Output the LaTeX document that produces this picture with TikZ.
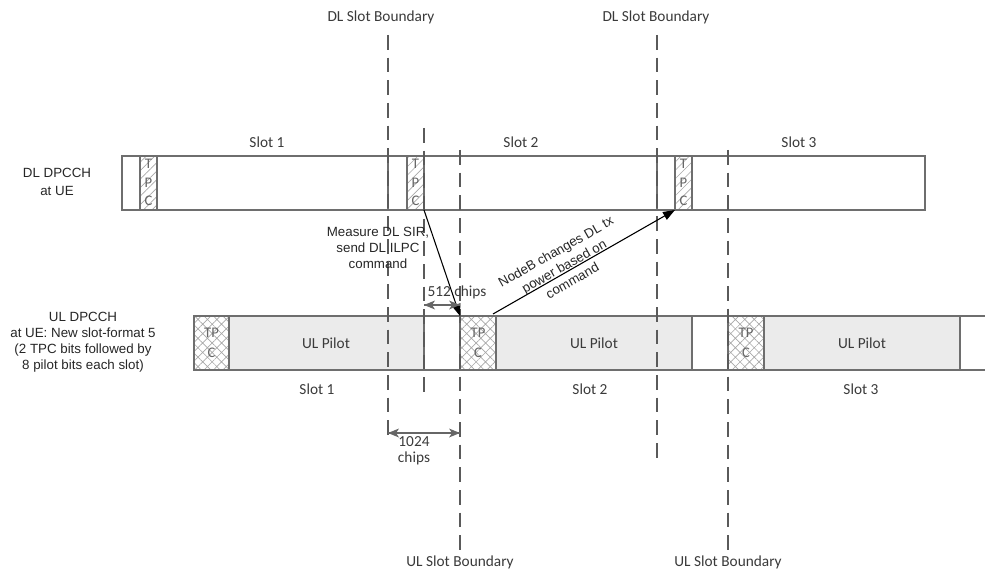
\documentclass[tikz,border=0pt]{standalone}
\usepackage{fontspec}
\setmainfont{Liberation Sans}
\newfontfamily\calfont{Carlito}
\usetikzlibrary{patterns.meta,arrows.meta}
\definecolor{bandc}{HTML}{6E6E6E}
\definecolor{dashc}{HTML}{5A5A5A}
\definecolor{txtc}{HTML}{3A3A3A}
\definecolor{hatchc}{HTML}{A8A8A8}
\definecolor{pilotc}{HTML}{EBEBEB}
\definecolor{chipc}{HTML}{666666}
\begin{document}
\begin{tikzpicture}[x=0.75pt,y=-0.75pt,
  band/.style={draw=bandc, line width=1.1pt},
  dltpc/.style={draw=bandc, line width=1.1pt, pattern={Lines[angle=45,distance=4.5pt,line width=0.5pt]}, pattern color=hatchc},
  ultpc/.style={draw=bandc, line width=1.1pt, pattern={Hatch[angle=45,distance=5pt,line width=0.5pt]}, pattern color=hatchc},
  pilot/.style={draw=bandc, line width=1.1pt, fill=pilotc},
  bnd/.style={draw=dashc, line width=1.4pt, dash pattern=on 11pt off 6pt},
  ctxt/.style={font=\calfont\fontsize{11.5}{12}\selectfont, text=txtc, inner sep=0pt},
  atxt/.style={font=\fontsize{10}{12}\selectfont, text=black!85, inner sep=0pt, align=center},
  tpcl/.style={font=\calfont\fontsize{11}{12}\selectfont, text=black!60, inner sep=0pt},
  meas/.style={draw=black, line width=0.8pt, -{Triangle[length=9pt,width=6.5pt]}},
  chipline/.style={draw=chipc, line width=1.2pt},
  chiphead/.style={fill=chipc}
]
\useasboundingbox (0,0) rectangle (985,574);

% ---------- DL band ----------
\draw[band] (122,156) rectangle (925,210);
\draw[dltpc] (140,156) rectangle (157,210);
\draw[band] (388,156) -- (388,210);
\draw[dltpc] (407,156) rectangle (424,210);
\draw[band] (657,156) -- (657,210);
\draw[dltpc] (675,156) rectangle (692,210);
\foreach \x in {148.5,415.5,683.5}{
  \node[tpcl] at (\x,164) {T};
  \node[tpcl] at (\x,183) {P};
  \node[tpcl] at (\x,201) {C};
}

% ---------- UL band ----------
\draw[band] (194,316) -- (985,316);
\draw[band] (194,370) -- (985,370);
\draw[band] (194,316) -- (194,370);
\draw[ultpc] (194,316) rectangle (229,370);
\draw[pilot] (229,316) rectangle (424,370);
\draw[ultpc] (460,316) rectangle (496,370);
\draw[pilot] (496,316) rectangle (692,370);
\draw[ultpc] (728,316) rectangle (764,370);
\draw[pilot] (764,316) rectangle (960,370);
\foreach \x in {211.5,478,746}{
  \node[tpcl] at (\x,333) {TP};
  \node[tpcl] at (\x,353) {C};
}
\node[ctxt] (pil1) at (326,343) {UL Pilot};
\node[ctxt] (pil2) at (594,343) {UL Pilot};
\node[ctxt] (pil3) at (862,343) {UL Pilot};

% ---------- dashed boundaries ----------
\coordinate (dlb1t) at (388,35);  \coordinate (dlb1b) at (388,437);
\coordinate (dlb2t) at (657,35);  \coordinate (dlb2b) at (657,465);
\coordinate (midt) at (424,128);  \coordinate (midb) at (424,400);
\coordinate (ulb1t) at (460,150); \coordinate (ulb1b) at (460,555);
\coordinate (ulb2t) at (728,150); \coordinate (ulb2b) at (728,555);
\draw[bnd] (dlb1t) -- (dlb1b);
\draw[bnd] (dlb2t) -- (dlb2b);
\draw[bnd] (midt) -- (midb);
\draw[bnd] (ulb1t) -- (ulb1b);
\draw[bnd] (ulb2t) -- (ulb2b);

\node[ctxt] (dlbl1) at (381,17) {DL Slot Boundary};
\node[ctxt] (dlbl2) at (656,17) {DL Slot Boundary};
\node[ctxt] (ulbl1) at (460,562) {UL Slot Boundary};
\node[ctxt] (ulbl2) at (728,562) {UL Slot Boundary};

% ---------- slot labels ----------
\node[ctxt] (ds1) at (267,142) {Slot 1};
\node[ctxt] (ds2) at (521,142) {Slot 2};
\node[ctxt] (ds3) at (799,142) {Slot 3};
\node[ctxt] (us1) at (317,389) {Slot 1};
\node[ctxt] (us2) at (590,389) {Slot 2};
\node[ctxt] (us3) at (861,389) {Slot 3};

% ---------- left labels ----------
\node[atxt, font=\fontsize{10}{13.5}\selectfont] (dllab) at (57,182) {DL DPCCH\\at UE};
\node[atxt] (ullab) at (83,342) {UL DPCCH\\at UE: New slot-format 5\\(2 TPC bits followed by\\8 pilot bits each slot)};

% ---------- measurement arrows ----------
\coordinate (dltpcbr) at (424,210);
\coordinate (ultpctl) at (460,316);
\coordinate (ultpctr) at (493,314);
\coordinate (dltpcbl) at (675,210);
\draw[meas] (dltpcbr) -- (ultpctl);
\draw[meas] (ultpctr) -- (dltpcbl);
\node[atxt] (meastxt) at (378,248) {Measure DL SIR,\\send DL ILPC\\command};
\node[atxt, font=\fontsize{10}{12.5}\selectfont, rotate=29.6] (nodeb) at (564,266) {NodeB changes DL tx\\power based on\\command};

% ---------- chip arrows ----------
\coordinate (c5a) at (424,305); \coordinate (c5b) at (460,305);
\draw[chipline] (c5a) -- (c5b);
\fill[chiphead] (c5a) -- ++(11,-4.5) -- ++(-3,4.5) -- ++(3,4.5) -- cycle;
\fill[chiphead] (c5b) -- ++(-11,-4.5) -- ++(3,4.5) -- ++(-3,4.5) -- cycle;
\node[ctxt] (c512) at (457,292) {512 chips};
\coordinate (c1a) at (388,433); \coordinate (c1b) at (460,433);
\draw[chipline] (c1a) -- (c1b);
\fill[chiphead] (c1a) -- ++(11,-4.5) -- ++(-3,4.5) -- ++(3,4.5) -- cycle;
\fill[chiphead] (c1b) -- ++(-11,-4.5) -- ++(3,4.5) -- ++(-3,4.5) -- cycle;
\node[ctxt, align=center, font=\calfont\fontsize{11.5}{12}\selectfont] (c1024) at (414,451) {1024\\chips};
\end{tikzpicture}
\end{document}
